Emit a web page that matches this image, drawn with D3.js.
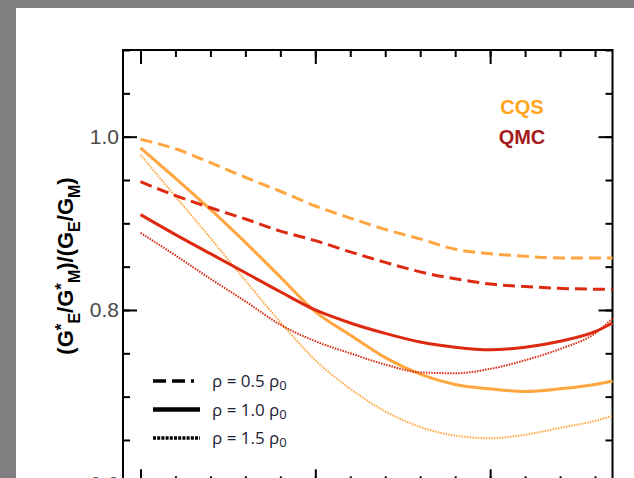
<!DOCTYPE html>
<html>
<head>
<meta charset="utf-8">
<script src="https://cdn.jsdelivr.net/npm/d3@7"></script>
<style>
  body { margin: 0; background: #fff; }
  svg { display: block; }
</style>
</head>
<body>
<script>
// x positions of the sampled curve points
var xVals = [0, 0.2, 0.4, 0.6, 0.8, 1.0, 1.2, 1.4, 1.6, 1.8, 2.0, 2.2, 2.4, 2.6, 2.7];

// CQS model
var cqs05 = [0.997, 0.986, 0.970, 0.953, 0.937, 0.920, 0.906, 0.893, 0.882, 0.870, 0.865, 0.862, 0.860, 0.860, 0.860];
var cqs10 = [0.987, 0.952, 0.916, 0.878, 0.838, 0.798, 0.771, 0.745, 0.726, 0.714, 0.709, 0.706, 0.709, 0.714, 0.718];
var cqs15 = [0.979, 0.931, 0.883, 0.834, 0.786, 0.742, 0.709, 0.683, 0.665, 0.655, 0.652, 0.656, 0.664, 0.672, 0.678];

// QMC model
var qmc05 = [0.948, 0.932, 0.918, 0.905, 0.891, 0.880, 0.867, 0.855, 0.844, 0.836, 0.830, 0.827, 0.825, 0.824, 0.824];
var qmc10 = [0.910, 0.887, 0.865, 0.843, 0.821, 0.800, 0.785, 0.773, 0.763, 0.757, 0.754, 0.757, 0.764, 0.775, 0.785];
var qmc15 = [0.889, 0.863, 0.836, 0.810, 0.783, 0.764, 0.750, 0.737, 0.728, 0.727, 0.732, 0.742, 0.755, 0.773, 0.790];

var yMajor = [0.6, 0.8, 1.0];
var yMinor = d3.range(0.6, 1.1001, 0.05);
var xMajor = [0, 1, 2];
var xMinor = d3.range(0, 2.7, 0.2);

var densityLabels = ["0.5", "1.0", "1.5"];

var W = 634, H = 478;
var orange = "#ffa640", red = "#dd2a10";

var svg = d3.select("body").append("svg")
    .attr("width", W)
    .attr("height", H);

// gray page border
svg.append("rect").attr("x", 0).attr("y", 0).attr("width", W).attr("height", 8).style("fill", "#808080");
svg.append("rect").attr("x", 0).attr("y", 0).attr("width", 16).attr("height", H).style("fill", "#808080");

var pLeft = 123, pRight = 612.5, pTop = 50, pBottom = 483.3;

var x = d3.scaleLinear().domain([-0.1, 2.7]).range([pLeft, pRight]);
var y = d3.scaleLinear().domain([0.6, 1.1]).range([pBottom, pTop]);

function styleAxis(g) {
    g.select(".domain").remove();
    g.selectAll(".tick line").style("stroke", "#000").style("stroke-width", 2);
}

// minor ticks, all four sides
svg.append("g").attr("transform", "translate(" + pLeft + ",0)")
    .call(d3.axisLeft(y).tickValues(yMinor).tickSize(-7).tickFormat(""))
    .call(styleAxis);
svg.append("g").attr("transform", "translate(" + pRight + ",0)")
    .call(d3.axisRight(y).tickValues(yMinor).tickSize(-7).tickFormat(""))
    .call(styleAxis);
svg.append("g").attr("transform", "translate(0," + pTop + ")")
    .call(d3.axisTop(x).tickValues(xMinor).tickSize(-7).tickFormat(""))
    .call(styleAxis);
svg.append("g").attr("transform", "translate(0," + pBottom + ")")
    .call(d3.axisBottom(x).tickValues(xMinor).tickSize(-7).tickFormat(""))
    .call(styleAxis);

// major ticks
var yAxisMajor = svg.append("g").attr("transform", "translate(" + pLeft + ",0)")
    .call(d3.axisLeft(y).tickValues(yMajor).tickSize(-14).tickPadding(4).tickFormat(d3.format(".1f")))
    .call(styleAxis);
yAxisMajor.selectAll(".tick text")
    .style("font-family", "Liberation Sans, Arial, sans-serif")
    .style("font-size", "21px")
    .style("fill", "#4a4a4a");
svg.append("g").attr("transform", "translate(" + pRight + ",0)")
    .call(d3.axisRight(y).tickValues(yMajor).tickSize(-14).tickFormat(""))
    .call(styleAxis);
svg.append("g").attr("transform", "translate(0," + pTop + ")")
    .call(d3.axisTop(x).tickValues(xMajor).tickSize(-14).tickFormat(""))
    .call(styleAxis);
svg.append("g").attr("transform", "translate(0," + pBottom + ")")
    .call(d3.axisBottom(x).tickValues(xMajor).tickSize(-14).tickFormat(""))
    .call(styleAxis);

// frame
svg.append("rect")
    .attr("x", pLeft).attr("y", pTop)
    .attr("width", pRight - pLeft).attr("height", pBottom - pTop)
    .style("fill", "none").style("stroke", "#000").style("stroke-width", 2);

// curves
var line = d3.line()
    .x(function(d, i) { return x(xVals[i]); })
    .y(function(d) { return y(d); })
    .curve(d3.curveMonotoneX);

var series = [
    {v: cqs05, c: orange, w: 3, dash: "12,6"},
    {v: cqs10, c: orange, w: 3, dash: null},
    {v: cqs15, c: orange, w: 2, dash: "1.5,1.2"},
    {v: qmc05, c: red, w: 3, dash: "12,6"},
    {v: qmc10, c: red, w: 3, dash: null},
    {v: qmc15, c: red, w: 2, dash: "1.5,1.2"}
];

svg.append("g").selectAll("path")
    .data(series)
    .enter()
    .append("path")
    .attr("d", function(d) { return line(d.v); })
    .style("fill", "none")
    .style("stroke", function(d) { return d.c; })
    .style("stroke-width", function(d) { return d.w; })
    .style("stroke-dasharray", function(d) { return d.dash; });

// model labels
svg.append("text").text("CQS")
    .attr("x", 522).attr("y", 114)
    .attr("text-anchor", "middle")
    .style("font-family", "Liberation Sans, Arial, sans-serif")
    .style("font-weight", "bold").style("font-size", "20px")
    .style("fill", "#ffa41c");
svg.append("text").text("QMC")
    .attr("x", 522).attr("y", 144)
    .attr("text-anchor", "middle")
    .style("font-family", "Liberation Sans, Arial, sans-serif")
    .style("font-weight", "bold").style("font-size", "20px")
    .style("fill", "#a51c1c");

// density legend
var legendDash = ["13,6,13,6,3", null, "3,1.2"];
var legendWidth = [3.5, 4.5, 3.5];
var leg = svg.append("g").selectAll("g")
    .data(densityLabels)
    .enter()
    .append("g")
    .attr("transform", function(d, i) { return "translate(0," + (381 + i * 28.5) + ")"; });

leg.append("line")
    .attr("x1", 153).attr("x2", 200)
    .attr("y1", 0).attr("y2", 0)
    .style("stroke", "#000")
    .style("stroke-width", function(d, i) { return legendWidth[i]; })
    .style("stroke-dasharray", function(d, i) { return legendDash[i]; });

var lt = leg.append("text")
    .attr("x", 212).attr("y", 6)
    .style("font-family", "Open Sans, sans-serif")
    .style("font-size", "17px")
    .style("fill", "#1e2235");
lt.append("tspan").text(function(d) { return "\u03c1 = " + d + " \u03c1"; });
lt.append("tspan").attr("dy", 3).style("font-size", "13px").text("0");

// y axis title
var yt = svg.append("text")
    .attr("transform", "translate(73,266) rotate(-90)")
    .attr("text-anchor", "middle")
    .style("font-family", "Liberation Sans, Arial, sans-serif")
    .style("font-weight", "bold")
    .style("font-size", "22px")
    .style("fill", "#000");
yt.append("tspan").text("(G");
yt.append("tspan").attr("dy", -6).style("font-size", "17px").text("*");
yt.append("tspan").attr("dy", 13).style("font-size", "16px").text("E");
yt.append("tspan").attr("dy", -7).text("/G");
yt.append("tspan").attr("dy", -6).style("font-size", "17px").text("*");
yt.append("tspan").attr("dy", 13).style("font-size", "16px").text("M");
yt.append("tspan").attr("dy", -7).text(")/(G");
yt.append("tspan").attr("dy", 7).style("font-size", "16px").text("E");
yt.append("tspan").attr("dy", -7).text("/G");
yt.append("tspan").attr("dy", 7).style("font-size", "16px").text("M");
yt.append("tspan").attr("dy", -7).text(")");
</script>
</body>
</html>
